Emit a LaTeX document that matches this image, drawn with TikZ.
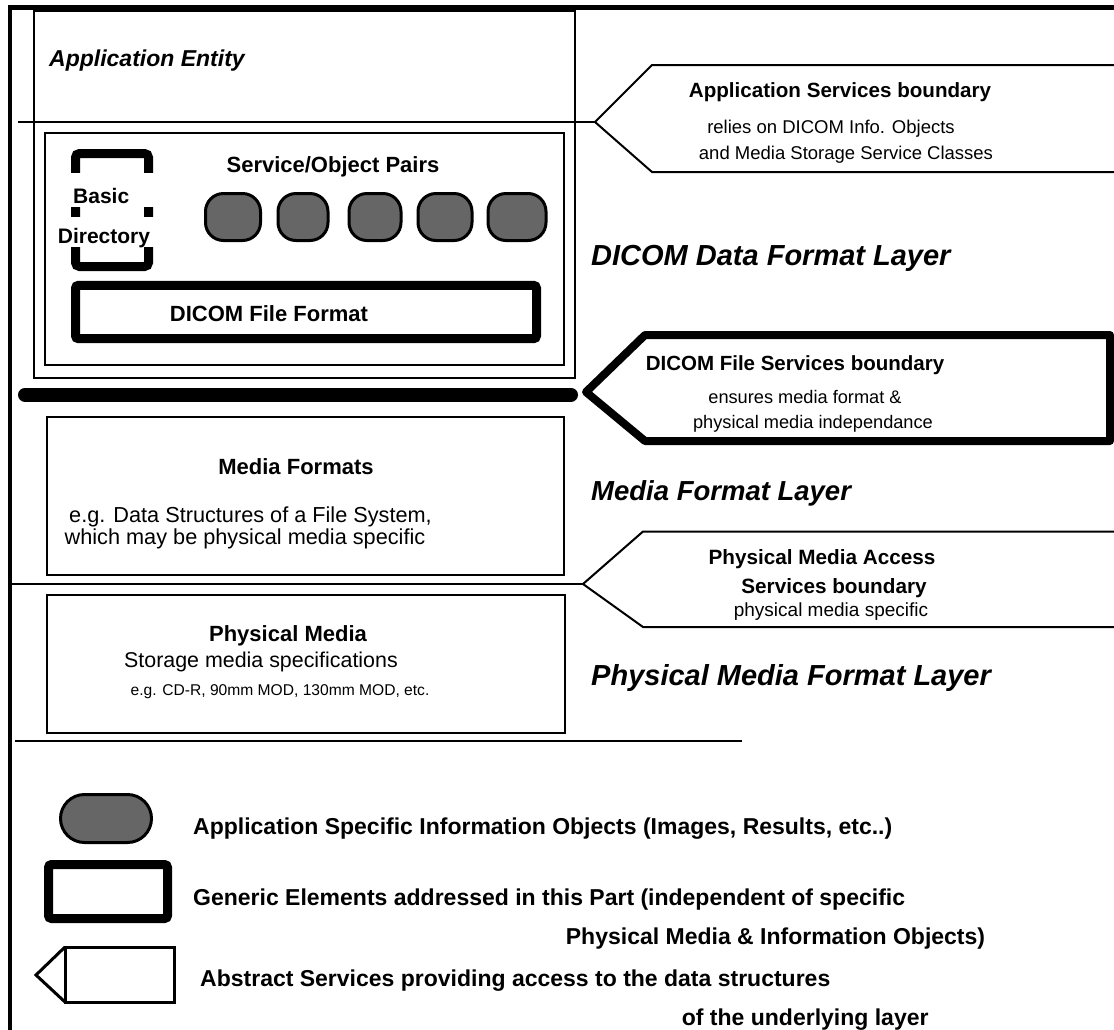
\documentclass[tikz,border=0pt]{standalone}
\usepackage{fontspec}
\setmainfont{Liberation Sans}
\definecolor{objgray}{RGB}{102,102,102}
\tikzset{
  thinln/.style={line width=1.6pt},
  genbox/.style={draw, line width=9pt, rounded corners=3pt, inner sep=0pt},
  infobj/.style={draw, line width=3pt, fill=objgray, rounded corners=18pt, inner sep=0pt, minimum height=47pt},
  bflbl/.style={inner sep=0pt, anchor=base, font=\fontsize{#1pt}{#1pt}\selectfont\bfseries},
  rmlbl/.style={inner sep=0pt, anchor=base, font=\fontsize{#1pt}{#1pt}\selectfont},
  layer/.style={inner sep=0pt, anchor=base west, font=\fontsize{#1pt}{#1pt}\selectfont\bfseries\itshape},
}
\begin{document}
\begin{tikzpicture}[x=1pt, y=-1pt]
\useasboundingbox (0,0) rectangle (1114,1029);

\coordinate (asb) at (595,122);
\coordinate (dfs) at (586,392);
\coordinate (pma) at (583,584);
\coordinate (lgtip) at (36,975);

% frame
\draw[line width=4.5pt] (10,1040) -- (10,7.5) -- (1130,7.5);

% application entity
\draw[thinln] (34,11) rectangle (575,378);
\node[font=\fontsize{23pt}{23pt}\selectfont\bfseries\itshape, inner sep=0pt, anchor=base west] (ae) at (49,66) {Application Entity};
\draw[line width=2pt] (18,122) -- (asb);
\draw[thinln] (44.8,133) rectangle (563.7,365);

% basic directory
\draw[line width=9pt, rounded corners=4pt] (75.5,153.5) rectangle (148.5,266.5);
\fill[white] (70,173) rectangle (158,207);
\fill[white] (52,217) rectangle (158,247);
\node[bflbl=21, anchor=base west] (basic) at (73,203.5) {Basic};
\node[bflbl=21] (dir) at (104,243.5) {Directory};

% service/object pairs
\node[bflbl=22] (sop) at (333,172) {Service/Object Pairs};
\foreach \n/\cx/\w in {1/233/55, 2/303/50, 3/375/52, 4/445/54, 5/517/58}
  \node[infobj, minimum width=\w pt] (obj\n) at (\cx,217) {};

% file format
\node[genbox, minimum width=461pt, minimum height=53.4pt] (dff) at (306,312) {};
\node[bflbl=22] (dfftxt) at (269,321) {DICOM File Format};

\draw[line width=14pt, line cap=round] (25,394.7) -- (571,394.7);

% boundaries
\draw[line width=2pt] (1130,65) -- (652,65) -- (asb) -- (652,172) -- (1130,172);
\node[bflbl=20.6] (asbt) at (840,97.4) {Application Services boundary};
\node[rmlbl=18.5] (asb1) at (831,133.7) {relies on DICOM Info. Objects};
\node[rmlbl=18.5] (asb2) at (846,159.7) {and Media Storage Service Classes};

\draw[line width=8pt, line join=round] (1110,335) -- (645,335) -- (dfs) -- (645,441) -- (1110,441) -- cycle;
\node[bflbl=20.5] (dfst) at (795,370.4) {DICOM File Services boundary};
\node[rmlbl=18.2] (dfs1) at (805,403.5) {ensures media format \&};
\node[rmlbl=18.2] (dfs2) at (813,428.5) {physical media independance};

\draw[line width=2.2pt] (12,584) -- (pma);
\draw[line width=2pt] (1130,531.5) -- (643,531.5) -- (pma) -- (643,627) -- (1130,627);
\node[bflbl=20.7] (pmat) at (822,564.4) {Physical Media Access};
\node[bflbl=20.7] (pmat2) at (834,593.4) {Services boundary};
\node[rmlbl=19] (pma1) at (831,616.8) {physical media specific};

% layers
\node[layer=29] (l1) at (591,265.5) {DICOM Data Format Layer};
\node[layer=27.5] (l2) at (591,500) {Media Format Layer};
\node[layer=29] (l3) at (591,685.5) {Physical Media Format Layer};

% media formats
\draw[thinln] (47,417) rectangle (564,575);
\node[bflbl=22] (mf) at (296,474) {Media Formats};
\node[rmlbl=21.7] (mf1) at (250.5,522.8) {e.g. Data Structures of a File System,};
\node[rmlbl=21.7] (mf2) at (245,544.8) {which may be physical media specific};

% physical media
\draw[thinln] (47,595) rectangle (565,733);
\node[bflbl=22] (pm) at (288,641) {Physical Media};
\node[rmlbl=21.4] (pm1) at (261,667.7) {Storage media specifications};
\node[rmlbl=15.6] (pm2) at (280,695.6) {e.g. CD-R, 90mm MOD, 130mm MOD, etc.};
\draw[line width=2.5pt] (15,741) -- (742,741);

% legend
\node[infobj, minimum width=91pt, minimum height=48pt, rounded corners=24pt] (lgobj) at (106,818.5) {};
\node[genbox, minimum width=119pt, minimum height=54pt] (lgbox) at (108,891.5) {};
\draw[line width=3pt] (65,947) rectangle (174,1002);
\draw[line width=3pt] (65,947) -- (lgtip) -- (65,1002);
\node[bflbl=23, anchor=base west] (lg1) at (193,834.3) {Application Specific Information Objects (Images, Results, etc..)};
\node[bflbl=23, anchor=base west] (lg2) at (193,905.3) {Generic Elements addressed in this Part (independent of specific};
\node[bflbl=23, anchor=base west] (lg3) at (565.7,944.3) {Physical Media \& Information Objects)};
\node[bflbl=23, anchor=base west] (lg4) at (200,986.3) {Abstract Services providing access to the data structures};
\node[bflbl=23, anchor=base west] (lg5) at (681.7,1025.3) {of the underlying layer};
\end{tikzpicture}
\end{document}
